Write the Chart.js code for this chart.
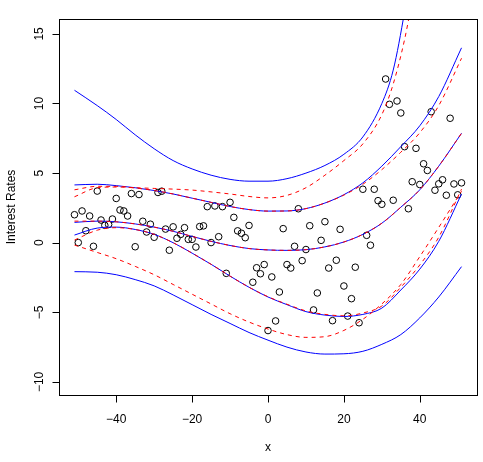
<!DOCTYPE html>
<html>
<head>
<meta charset="utf-8">
<script src="https://cdn.jsdelivr.net/npm/chart.js@4.4.1/dist/chart.umd.min.js"></script>
<style>
  html, body { margin: 0; padding: 0; background: #fff; }
  #wrap { width: 483px; height: 462px; }
</style>
</head>
<body>
<div id="wrap"><canvas id="rateChart" width="483" height="462"></canvas></div>
<script>
// scatter points (x, Interest Rates)
const pointX = [-51,-50,-49,-48,-47,-46,-45,-44,-43,-42,-41,-40,-39,-38,-37,-36,-35,-34,-33,-32,
  -31,-30,-29,-28,-27,-26,-25,-24,-23,-22,-21,-20,-19,-18,-17,-16,-15,-14,-13,-12,
  -11,-10,-9,-8,-7,-6,-5,-4,-3,-2,-1,0,1,2,3,4,5,6,7,8,
  9,10,11,12,13,14,15,16,17,18,19,20,21,22,23,24,25,26,27,28,
  29,30,31,32,33,34,35,36,37,38,39,40,41,42,43,44,45,46,47,48,49,50,51];
const pointY = [2.01,0.01,2.28,0.86,1.92,-0.26,3.71,1.63,1.25,1.31,
  1.70,3.18,2.35,2.28,1.92,3.53,-0.29,3.46,1.54,0.77,
  1.33,0.39,3.61,3.70,0.98,-0.54,1.14,0.32,0.60,1.08,
  0.24,0.24,-0.31,1.16,1.21,2.59,0.01,2.64,0.43,2.59,
  -2.20,2.90,1.82,0.85,0.68,0.36,1.24,-2.84,-1.80,-2.23,
  -1.57,-6.31,-2.46,-5.62,-3.54,1.01,-1.57,-1.82,-0.26,2.44,
  -1.29,-0.49,1.22,-4.83,-3.61,0.17,1.51,-1.82,-5.60,-1.26,
  0.96,-3.11,-5.27,-4.02,-1.76,-5.75,3.84,0.53,-0.18,3.84,
  3.02,2.76,11.76,9.94,3.05,10.18,9.32,6.90,2.44,4.38,
  6.78,4.18,5.67,5.19,9.41,3.77,4.23,4.52,3.41,8.94,
  4.22,3.44,4.30];

// fitted curves
const topX = [-51,-45,-40,-35,-30,-25,-20,-15,-10,-5,0,5,10,15,20,25,30,33,36,38];
const blueTop = [10.95,9.85,8.85,7.75,6.75,5.9,5.3,4.85,4.55,4.42,4.42,4.6,5.0,5.55,6.35,7.6,10.0,12.4,16.6,20.0];
const redTop = [3.3,3.95,4.0,3.95,3.9,3.85,3.78,3.65,3.5,3.32,3.22,3.4,3.95,4.85,5.9,7.1,9.2,11.4,14.6,17.4];

const curveX = [-51,-45,-40,-35,-30,-25,-20,-15,-10,-5,0,5,10,15,20,25,30,35,40,45,51];
const blueUpper = [4.15,4.2,4.1,3.95,3.75,3.5,3.2,2.9,2.6,2.38,2.27,2.28,2.45,2.85,3.45,4.3,5.5,6.9,8.4,10.5,14.0];
const redUpper = [3.8,4.05,4.05,3.93,3.75,3.5,3.2,2.9,2.6,2.38,2.27,2.28,2.45,2.85,3.42,4.2,5.25,6.5,7.9,9.85,13.25];
const blueMid = [1.46,1.55,1.5,1.35,1.12,0.82,0.45,0.1,-0.2,-0.42,-0.52,-0.55,-0.5,-0.3,0.05,0.6,1.4,2.55,3.8,5.5,7.86];
const redMid = [1.55,1.55,1.5,1.35,1.12,0.82,0.45,0.1,-0.2,-0.42,-0.52,-0.55,-0.5,-0.3,0.05,0.6,1.4,2.55,3.8,5.5,7.86];
const blueLower = [0.55,1.05,1.12,0.95,0.6,0.0,-0.75,-1.55,-2.4,-3.2,-3.9,-4.45,-4.95,-5.2,-5.3,-5.15,-4.7,-3.4,-1.9,0.1,3.5];
const redLower = [0.19,0.9,1.08,0.95,0.6,0.0,-0.75,-1.55,-2.4,-3.2,-3.88,-4.42,-4.9,-5.15,-5.25,-5.05,-4.55,-3.2,-1.6,0.4,3.85];
const redBottom = [-0.17,-0.7,-1.15,-1.7,-2.3,-3.0,-3.7,-4.4,-5.1,-5.7,-6.2,-6.6,-6.8,-6.75,-6.3,-5.5,-4.4,-3.0,-1.0,1.1,3.7];
const blueBottom = [-2.08,-2.12,-2.3,-2.65,-3.1,-3.75,-4.45,-5.15,-5.8,-6.45,-7.0,-7.5,-7.85,-8.0,-7.98,-7.8,-7.3,-6.6,-5.4,-3.9,-1.72];

const xTicks = [-40, -20, 0, 20, 40];
const yTicks = [-10, -5, 0, 5, 10, 15];

const FONT = "'Liberation Sans', Arial, Helvetica, sans-serif";

function toXY(xs, ys) {
  return xs.map((x, i) => ({ x: x, y: ys[i] }));
}

function fmt(v) {
  return String(v).replace('-', '\u2212');
}

function curve(xs, ys, red) {
  return {
    data: toXY(xs, ys),
    showLine: true,
    pointRadius: 0,
    borderColor: red ? '#ff0000' : '#0000ff',
    borderWidth: 1,
    borderDash: red ? [4, 4] : [],
    cubicInterpolationMode: 'monotone',
    fill: false,
    order: red ? 1 : 2
  };
}

// box, tick marks, rotated y labels and axis titles, R style
const framePlugin = {
  id: 'frame',
  afterDraw(chart) {
    const { ctx, chartArea } = chart;
    const xs = chart.scales.x;
    const ys = chart.scales.y;
    const left = Math.round(chartArea.left) + 0.5;
    const bottom = Math.round(chartArea.bottom) + 0.5;
    ctx.save();
    ctx.strokeStyle = '#000';
    ctx.lineWidth = 1;
    ctx.strokeRect(left, Math.round(chartArea.top) + 0.5,
      Math.round(chartArea.right - chartArea.left), Math.round(chartArea.bottom - chartArea.top));

    ctx.beginPath();
    xs.ticks.forEach(t => {
      const px = Math.round(xs.getPixelForValue(t.value)) + 0.5;
      ctx.moveTo(px, bottom);
      ctx.lineTo(px, bottom + 7);
    });
    ys.ticks.forEach(t => {
      const py = Math.round(ys.getPixelForValue(t.value)) + 0.5;
      ctx.moveTo(left, py);
      ctx.lineTo(left - 7, py);
    });
    ctx.stroke();

    ctx.fillStyle = '#000';
    ctx.font = '12px ' + FONT;
    ctx.textAlign = 'center';
    ctx.textBaseline = 'middle';
    ys.ticks.forEach(t => {
      const py = ys.getPixelForValue(t.value);
      ctx.save();
      ctx.translate(40, py);
      ctx.rotate(-Math.PI / 2);
      ctx.fillText(fmt(t.value), 0, 0);
      ctx.restore();
    });

    ctx.save();
    ctx.translate(12, (chartArea.top + chartArea.bottom) / 2);
    ctx.rotate(-Math.PI / 2);
    ctx.fillText('Interest Rates', 0, 0);
    ctx.restore();

    ctx.fillText('x', (chartArea.left + chartArea.right) / 2, 448);
    ctx.restore();
  }
};

const chart = new Chart(document.getElementById('rateChart'), {
  type: 'scatter',
  data: {
    datasets: [
      {
        data: toXY(pointX, pointY),
        pointStyle: 'circle',
        pointRadius: 3.3,
        pointBorderWidth: 1,
        pointBorderColor: '#000',
        pointBackgroundColor: 'rgba(0,0,0,0)',
        order: 3
      },
      curve(topX, blueTop, false),
      curve(topX, redTop, true),
      curve(curveX, blueUpper, false),
      curve(curveX, redUpper, true),
      curve(curveX, blueMid, false),
      curve(curveX, redMid, true),
      curve(curveX, blueLower, false),
      curve(curveX, redLower, true),
      curve(curveX, redBottom, true),
      curve(curveX, blueBottom, false)
    ]
  },
  options: {
    responsive: false,
    animation: false,
    devicePixelRatio: 1,
    layout: { padding: { left: 0, top: 19, right: 6, bottom: 0 } },
    plugins: {
      legend: { display: false },
      tooltip: { enabled: false }
    },
    scales: {
      x: {
        type: 'linear',
        min: -55.08,
        max: 55.08,
        afterBuildTicks: s => { s.ticks = xTicks.map(v => ({ value: v })); },
        afterFit: s => { s.height = 67; },
        border: { display: false },
        grid: { display: false },
        ticks: {
          color: '#000',
          font: { family: FONT, size: 12 },
          padding: 9,
          maxRotation: 0,
          autoSkip: false,
          callback: v => fmt(v)
        }
      },
      y: {
        type: 'linear',
        min: -10.94,
        max: 16.07,
        afterBuildTicks: s => { s.ticks = yTicks.map(v => ({ value: v })); },
        afterFit: s => { s.width = 59; },
        border: { display: false },
        grid: { display: false },
        ticks: {
          color: 'rgba(0,0,0,0)',
          font: { family: FONT, size: 12 },
          autoSkip: false,
          callback: v => fmt(v)
        }
      }
    }
  },
  plugins: [framePlugin]
});
</script>
</body>
</html>
